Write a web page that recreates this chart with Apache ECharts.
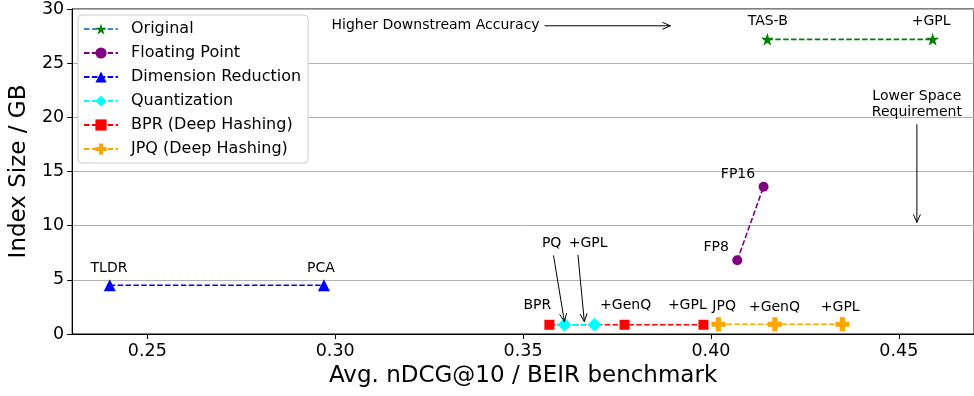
<!DOCTYPE html>
<html><head><meta charset="utf-8">
<script src="https://cdn.jsdelivr.net/npm/echarts@6/dist/echarts.min.js"></script>
<style>html,body{margin:0;padding:0;background:#fff}#c{width:974px;height:396px}</style>
</head><body><div id="c"></div>
<script>
// ---- data ----
const seriesNames = ['Original', 'Floating Point', 'Dimension Reduction', 'Quantization', 'BPR (Deep Hashing)', 'JPQ (Deep Hashing)'];
const originalX = [0.415, 0.459];
const originalY = [27.2, 27.2];
const originalLabels = ['TAS-B', '+GPL'];
const floatX = [0.407, 0.414];
const floatY = [6.8, 13.6];
const floatLabels = ['FP8', 'FP16'];
const dimX = [0.240, 0.297];
const dimY = [4.5, 4.5];
const dimLabels = ['TLDR', 'PCA'];
const quantX = [0.361, 0.369];
const quantY = [0.85, 0.85];
const quantLabels = ['PQ', '+GPL'];
const bprX = [0.357, 0.377, 0.398];
const bprY = [0.85, 0.85, 0.85];
const bprLabels = ['BPR', '+GenQ', '+GPL'];
const jpqX = [0.402, 0.417, 0.435];
const jpqY = [0.9, 0.9, 0.9];
const jpqLabels = ['JPQ', '+GenQ', '+GPL'];
const xTicks = [0.25, 0.30, 0.35, 0.40, 0.45];
const yTicks = [0, 5, 10, 15, 20, 25, 30];
const xTitle = 'Avg. nDCG@10 / BEIR benchmark';
const yTitle = 'Index Size / GB';

// ---- label placement (data coords of text centres) ----
const labelPos = {
  'Original': [[0.4151, 28.9], [0.4586, 28.9]],
  'Floating Point': [[0.4014, 8.0], [0.4072, 14.77]],
  'Dimension Reduction': [[0.2398, 6.03], [0.2962, 6.03]],
  'Quantization': [[0.3576, 8.38], [0.3673, 8.35]],
  'BPR (Deep Hashing)': [[0.3538, 2.6], [0.3773, 2.6], [0.3937, 2.6]],
  'JPQ (Deep Hashing)': [[0.4035, 2.55], [0.4169, 2.5], [0.4344, 2.5]]
};
// arrows: [from, to] in data coords
const arrows = [
  [[0.3557, 28.45], [0.3892, 28.45]],
  [[0.4548, 19.36], [0.4548, 10.3]],
  [[0.3581, 7.25], [0.3610, 1.14]],
  [[0.3646, 7.3], [0.3663, 1.14]]
];
const notes = [
  { text: 'Higher Downstream Accuracy', pos: [0.3544, 28.45], align: 'right' },
  { text: 'Lower Space\nRequirement', pos: [0.4548, 21.2], align: 'center' }
];

const FONT = 'DejaVu Sans';
const star = 'path://M0,-10 L2.245,-3.09 L9.51,-3.09 L3.633,1.18 L5.878,8.09 L0,3.82 L-5.878,8.09 L-3.633,1.18 L-9.51,-3.09 L-2.245,-3.09 Z';
const plus = 'path://M-1.1,-3 L1.1,-3 L1.1,-1.1 L3,-1.1 L3,1.1 L1.1,1.1 L1.1,3 L-1.1,3 L-1.1,1.1 L-3,1.1 L-3,-1.1 L-1.1,-1.1 Z';

const defs = [
  { name: seriesNames[0], xs: originalX, ys: originalY, labels: originalLabels, color: '#008000', symbol: star, size: 13 },
  { name: seriesNames[1], xs: floatX, ys: floatY, labels: floatLabels, color: '#800080', symbol: 'circle', size: 10 },
  { name: seriesNames[2], xs: dimX, ys: dimY, labels: dimLabels, color: '#0000ff', symbol: 'triangle', size: 12 },
  { name: seriesNames[3], xs: quantX, ys: quantY, labels: quantLabels, color: '#00ffff', symbol: 'diamond', size: 14, z: 5 },
  { name: seriesNames[4], xs: bprX, ys: bprY, labels: bprLabels, color: '#ff0000', symbol: 'rect', size: 10 },
  { name: seriesNames[5], xs: jpqX, ys: jpqY, labels: jpqLabels, color: '#ffa500', symbol: plus, size: 14 }
];

const series = defs.map(d => ({
  name: d.name,
  type: 'line',
  data: d.xs.map((x, i) => [x, d.ys[i]]),
  symbol: d.symbol,
  symbolSize: d.size,
  showAllSymbol: true,
  z: d.z || 3,
  itemStyle: { color: d.color, opacity: 1 },
  lineStyle: { color: d.color, width: 1.6, type: [5.5, 2.4] },
  emphasis: { disabled: true }
}));

const chart = echarts.init(document.getElementById('c'), null, { renderer: 'canvas' });
chart.setOption({
  animation: false,
  backgroundColor: '#fff',
  textStyle: { fontFamily: FONT },
  grid: { left: 68.5, right: -4, top: 7, bottom: 62, show: true, borderColor: '#000', borderWidth: 1, backgroundColor: 'transparent' },
  legend: {
    orient: 'vertical', left: 78, top: 15,
    padding: [6, 7, 6, 5],
    itemWidth: 34, itemHeight: 14, itemGap: 8,
    backgroundColor: '#fff', borderColor: '#cccccc', borderWidth: 1, borderRadius: 4,
    textStyle: { fontFamily: FONT, fontSize: 16, lineHeight: 14, color: '#000', padding: [0, 0, 0, 8] },
    data: seriesNames.map((n, i) => i === 0 ? { name: n, lineStyle: { color: '#3b8bd0' } } : { name: n })
  },
  xAxis: {
    type: 'value', min: 0.23, max: 0.47,
    name: xTitle, nameLocation: 'middle', nameGap: 30,
    nameTextStyle: { fontFamily: FONT, fontSize: 23, color: '#000' },
    axisLine: { show: true, lineStyle: { color: '#000', width: 1 } },
    axisTick: { show: true, length: 5, lineStyle: { color: '#000' }, customValues: xTicks },
    axisLabel: { fontFamily: FONT, fontSize: 17.5, color: '#000', margin: 8, customValues: xTicks, formatter: v => v.toFixed(2) },
    splitLine: { show: false }
  },
  yAxis: {
    type: 'value', min: 0, max: 30, interval: 5,
    name: yTitle, nameLocation: 'middle', nameGap: 37,
    nameTextStyle: { fontFamily: FONT, fontSize: 23, color: '#000' },
    axisLine: { show: true, lineStyle: { color: '#000', width: 1 } },
    axisTick: { show: true, length: 5, lineStyle: { color: '#000' } },
    axisLabel: { fontFamily: FONT, fontSize: 17.5, color: '#000', margin: 8 },
    splitLine: { show: true, lineStyle: { color: '#b0b0b0', width: 1 } }
  },
  series: series
});

function px(p) { return chart.convertToPixel({ gridIndex: 0 }, p); }
const g = [];
defs.forEach(d => {
  d.labels.forEach((t, i) => {
    const p = px(labelPos[d.name][i]);
    g.push({ type: 'text', x: p[0], y: p[1], z: 100, style: { text: t, fontFamily: FONT, fontSize: 14, fill: '#000', align: 'center', verticalAlign: 'middle' } });
  });
});
notes.forEach(n => {
  const p = px(n.pos);
  g.push({ type: 'text', x: p[0], y: p[1], z: 100, style: { text: n.text, fontFamily: FONT, fontSize: 14, lineHeight: 16, fill: '#000', align: n.align, verticalAlign: 'middle' } });
});
arrows.forEach(a => {
  const p1 = px(a[0]), p2 = px(a[1]);
  const ang = Math.atan2(p2[1] - p1[1], p2[0] - p1[0]);
  const L = 8, W = 3.5;
  const bx = p2[0] - L * Math.cos(ang), by = p2[1] - L * Math.sin(ang);
  const nx = -Math.sin(ang) * W, ny = Math.cos(ang) * W;
  g.push({ type: 'line', z: 100, shape: { x1: p1[0], y1: p1[1], x2: p2[0], y2: p2[1] }, style: { stroke: '#000', lineWidth: 1 } });
  g.push({ type: 'polyline', z: 100, shape: { points: [[bx + nx, by + ny], p2, [bx - nx, by - ny]] }, style: { stroke: '#000', fill: null, lineWidth: 1 } });
});
chart.setOption({ graphic: g });
</script>
</body></html>
